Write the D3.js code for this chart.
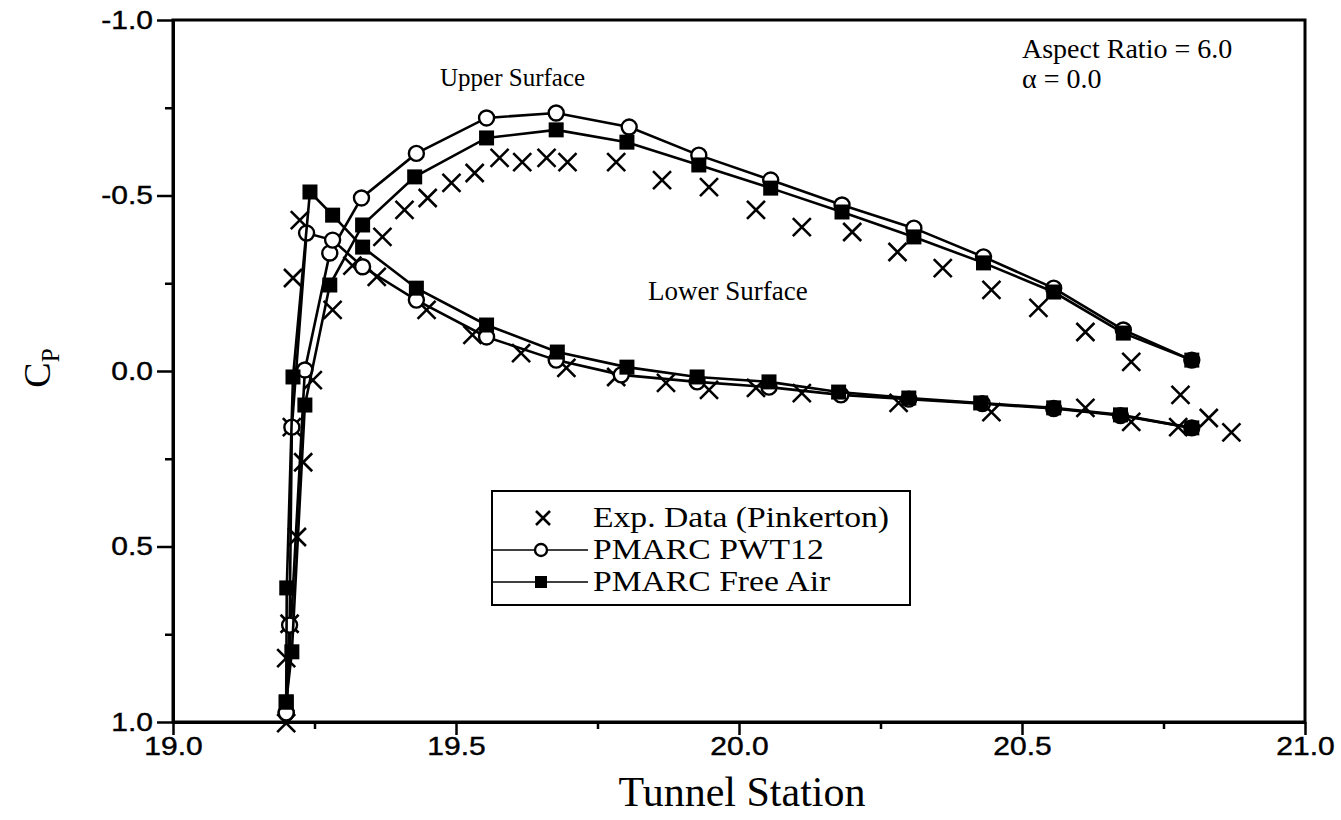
<!DOCTYPE html>
<html>
<head>
<meta charset="utf-8">
<script src="https://cdn.jsdelivr.net/npm/d3@7"></script>
<style>
  body { margin: 0; background: #fff; }
  svg { display: block; }
  .serif { font-family: "Liberation Serif", "Times New Roman", serif; fill: #000; }
</style>
</head>
<body>
<svg id="chart" width="1341" height="820"></svg>
<script>
// Exp. data (Pinkerton), both surfaces, x = tunnel station, y = Cp
const expUpperX  = [19.200, 19.200, 19.206, 19.219, 19.230, 19.247, 19.282, 19.370, 19.409, 19.450, 19.492, 19.533, 19.577, 19.617, 19.660, 19.697, 19.783, 19.864, 19.947, 20.030, 20.111, 20.200, 20.280, 20.360, 20.446, 20.529, 20.612, 20.693, 20.780];
const expUpperCp = [1.003, 0.818, 0.720, 0.473, 0.260, 0.026, -0.174, -0.382, -0.459, -0.493, -0.536, -0.564, -0.607, -0.595, -0.607, -0.595, -0.595, -0.544, -0.524, -0.459, -0.410, -0.396, -0.339, -0.293, -0.231, -0.180, -0.111, -0.026, 0.068];
const expLowerX  = [19.210, 19.212, 19.224, 19.317, 19.360, 19.448, 19.529, 19.615, 19.695, 19.783, 19.871, 19.947, 20.030, 20.111, 20.282, 20.446, 20.612, 20.693, 20.776, 20.830, 20.870];
const expLowerCp = [0.160, -0.265, -0.430, -0.300, -0.268, -0.174, -0.103, -0.051, -0.009, 0.017, 0.034, 0.054, 0.048, 0.063, 0.091, 0.117, 0.105, 0.145, 0.160, 0.134, 0.175];

// PMARC PWT12 (open circles)
const pwtUpperX  = [19.200, 19.233, 19.277, 19.333, 19.430, 19.554, 19.677, 19.806, 19.929, 20.056, 20.182, 20.309, 20.432, 20.556, 20.679, 20.800];
const pwtUpperCp = [0.974, -0.003, -0.336, -0.493, -0.620, -0.721, -0.735, -0.695, -0.615, -0.544, -0.473, -0.407, -0.325, -0.236, -0.117, -0.031];
const pwtLowerX  = [19.200, 19.206, 19.210, 19.236, 19.282, 19.335, 19.430, 19.554, 19.677, 19.792, 19.926, 20.053, 20.180, 20.300, 20.430, 20.556, 20.674, 20.800];
const pwtLowerCp = [0.974, 0.724, 0.160, -0.393, -0.373, -0.297, -0.202, -0.097, -0.031, 0.011, 0.031, 0.046, 0.068, 0.080, 0.093, 0.107, 0.127, 0.162];

// PMARC Free Air (filled squares)
const freeUpperX  = [19.200, 19.210, 19.233, 19.277, 19.335, 19.427, 19.554, 19.677, 19.802, 19.929, 20.056, 20.182, 20.309, 20.432, 20.556, 20.679, 20.800];
const freeUpperCp = [0.943, 0.800, 0.097, -0.245, -0.416, -0.553, -0.664, -0.687, -0.652, -0.587, -0.521, -0.453, -0.382, -0.308, -0.225, -0.108, -0.031];
const freeLowerX  = [19.200, 19.201, 19.212, 19.242, 19.282, 19.335, 19.430, 19.554, 19.679, 19.802, 19.926, 20.053, 20.176, 20.300, 20.427, 20.556, 20.674, 20.800];
const freeLowerCp = [0.943, 0.618, 0.017, -0.510, -0.444, -0.353, -0.236, -0.131, -0.054, -0.011, 0.017, 0.031, 0.060, 0.077, 0.091, 0.105, 0.125, 0.162];

const xTicks = [19.0, 19.5, 20.0, 20.5, 21.0];
const xTickLabels = ["19.0", "19.5", "20.0", "20.5", "21.0"];
const xMinorTicks = [19.25, 19.75, 20.25, 20.75];
const yTicks = [-1.0, -0.5, 0.0, 0.5, 1.0];
const yTickLabels = ["-1.0", "-0.5", "0.0", "0.5", "1.0"];
const yMinorTicks = [-0.75, -0.25, 0.25, 0.75];
const legendLabels = ["Exp. Data (Pinkerton)", "PMARC PWT12", "PMARC Free Air"];

const svg = d3.select("#chart");

const x = d3.scaleLinear().domain([19, 21]).range([173, 1305]);
const y = d3.scaleLinear().domain([-1, 1]).range([20, 722]);

const zip = (xs, ys) => xs.map((v, i) => [v, ys[i]]);

// frame
svg.append("rect")
   .attr("x", x(19)).attr("y", y(-1))
   .attr("width", x(21) - x(19)).attr("height", y(1) - y(-1))
   .attr("fill", "none").attr("stroke", "#000").attr("stroke-width", 3);

// axes
const styleAxis = (g, w) => {
  g.select(".domain").attr("stroke-width", 3);
  g.selectAll(".tick line").attr("stroke-width", w);
};
const sansLabels = sel => sel
  .attr("font-family", "'Liberation Sans', Arial, sans-serif")
  .attr("font-size", 25)
  .attr("stroke", "#000").attr("stroke-width", 0.4)
  .attr("transform", "scale(1.2,1)");

const gx = svg.append("g")
   .attr("transform", `translate(0,${y(1)})`)
   .call(d3.axisBottom(x).tickValues(xTicks).tickSize(13).tickSizeOuter(0)
           .tickFormat((d, i) => xTickLabels[i]));
styleAxis(gx, 2.5);
sansLabels(gx.selectAll("text")).attr("y", 15);

const gxm = svg.append("g")
   .attr("transform", `translate(0,${y(1)})`)
   .call(d3.axisBottom(x).tickValues(xMinorTicks).tickSize(7).tickFormat(""));
gxm.select(".domain").remove();
gxm.selectAll(".tick line").attr("stroke-width", 2.5);

const gy = svg.append("g")
   .attr("transform", `translate(${x(19)},0)`)
   .call(d3.axisLeft(y).tickValues(yTicks).tickSize(16).tickSizeOuter(0)
           .tickFormat((d, i) => yTickLabels[i]));
styleAxis(gy, 2.5);
sansLabels(gy.selectAll("text")).attr("x", -20 / 1.2);

const gym = svg.append("g")
   .attr("transform", `translate(${x(19)},0)`)
   .call(d3.axisLeft(y).tickValues(yMinorTicks).tickSize(8).tickFormat(""));
gym.select(".domain").remove();
gym.selectAll(".tick line").attr("stroke-width", 2.5);

// series
const line = d3.line().x(d => x(d[0])).y(d => y(d[1]));

const crossPath = s => `M${-s},${-s}L${s},${s}M${-s},${s}L${s},${-s}`;

const drawCrosses = (pts, s) => {
  svg.append("g").selectAll("path").data(pts).enter().append("path")
     .attr("d", crossPath(s))
     .attr("transform", d => `translate(${x(d[0])},${y(d[1])})`)
     .attr("stroke", "#000").attr("stroke-width", 2.6).attr("fill", "none");
};

drawCrosses(zip(expUpperX, expUpperCp), 9);
drawCrosses(zip(expLowerX, expLowerCp), 9);

const drawLine = pts => {
  svg.append("path").datum(pts)
     .attr("d", line)
     .attr("fill", "none").attr("stroke", "#000").attr("stroke-width", 2.6);
};

const pwtUpper = zip(pwtUpperX, pwtUpperCp);
const pwtLower = zip(pwtLowerX, pwtLowerCp);
const freeUpper = zip(freeUpperX, freeUpperCp);
const freeLower = zip(freeLowerX, freeLowerCp);

drawLine(pwtUpper);
drawLine(pwtLower);
svg.append("g").selectAll("circle").data(pwtUpper.concat(pwtLower)).enter().append("circle")
   .attr("cx", d => x(d[0])).attr("cy", d => y(d[1])).attr("r", 7.5)
   .attr("fill", "#fff").attr("stroke", "#000").attr("stroke-width", 2.4);

drawLine(freeUpper);
drawLine(freeLower);
svg.append("g").selectAll("rect").data(freeUpper.concat(freeLower)).enter().append("rect")
   .attr("x", d => x(d[0]) - 7.5).attr("y", d => y(d[1]) - 7.5)
   .attr("width", 15).attr("height", 15).attr("fill", "#000");

// annotations
svg.append("text").attr("class", "serif").attr("x", 440).attr("y", 86)
   .attr("font-size", 25).text("Upper Surface");
svg.append("text").attr("class", "serif").attr("x", 648).attr("y", 300)
   .attr("font-size", 27).text("Lower Surface");
svg.append("text").attr("class", "serif").attr("x", 1022).attr("y", 58)
   .attr("font-size", 28).text("Aspect Ratio = 6.0");
svg.append("text").attr("class", "serif").attr("x", 1022).attr("y", 88)
   .attr("font-size", 28).text("\u03b1 = 0.0");

// axis titles
svg.append("text").attr("class", "serif")
   .attr("x", 742).attr("y", 806).attr("text-anchor", "middle")
   .attr("font-size", 42).text("Tunnel Station");

const yTitle = svg.append("text").attr("class", "serif")
   .attr("transform", "translate(50,368) rotate(-90)")
   .attr("text-anchor", "middle").attr("font-size", 38);
yTitle.append("tspan").text("C");
yTitle.append("tspan").attr("font-size", 25).attr("dy", 9).text("P");

// legend
const legend = svg.append("g");
legend.append("rect")
   .attr("x", 492).attr("y", 491).attr("width", 418).attr("height", 114)
   .attr("fill", "#fff").attr("stroke", "#000").attr("stroke-width", 2);

const rowY = [518, 550, 582];
legendLabels.forEach((label, i) => {
  const cy = rowY[i];
  if (i === 0) {
    legend.append("path").attr("d", crossPath(7))
       .attr("transform", `translate(543,${cy})`)
       .attr("stroke", "#000").attr("stroke-width", 2.6).attr("fill", "none");
  } else {
    legend.append("line").attr("x1", 492).attr("x2", 588).attr("y1", cy).attr("y2", cy)
       .attr("stroke", "#000").attr("stroke-width", 1.6);
    if (i === 1) {
      legend.append("circle").attr("cx", 541).attr("cy", cy).attr("r", 6)
         .attr("fill", "#fff").attr("stroke", "#000").attr("stroke-width", 2.4);
    } else {
      legend.append("rect").attr("x", 535).attr("y", cy - 6).attr("width", 12).attr("height", 12)
         .attr("fill", "#000");
    }
  }
  legend.append("text").attr("class", "serif")
     .attr("x", 593 / 1.16).attr("y", cy + 9).attr("font-size", 29)
     .attr("transform", "scale(1.16,1)").text(label);
});
</script>
</body>
</html>
